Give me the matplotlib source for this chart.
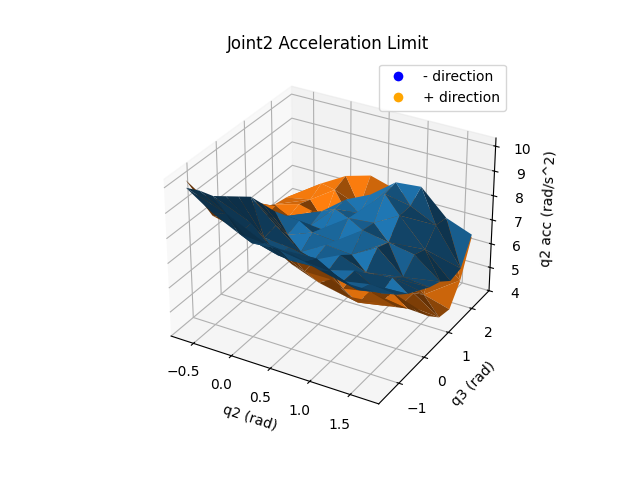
import matplotlib
matplotlib.use("Agg")
import matplotlib.pyplot as plt
import numpy as np
from matplotlib.lines import Line2D

q2_vals = [-0.63, -0.30, 0.03, 0.36, 0.69, 1.02, 1.35, 1.68]
q3_vals = [-1.48, -1.04, -0.60, -0.16, 0.28, 0.72, 1.16, 1.60, 2.04, 2.48]

# rows: q3 index, cols: q2 index
acc_minus = [
    [9.9, 9.2, 8.7, 8.6, 8.5, 8.2, 8.0, 8.0],
    [9.4, 8.8, 7.9, 8.0, 7.8, 7.7, 7.3, 7.5],
    [8.8, 7.6, 7.5, 7.1, 7.5, 6.9, 7.1, 7.0],
    [8.4, 7.6, 6.6, 6.9, 6.6, 6.9, 6.3, 6.6],
    [8.0, 6.6, 6.5, 6.3, 6.8, 6.4, 6.5, 6.3],
    [7.6, 6.7, 5.9, 6.5, 6.4, 7.0, 6.1, 6.0],
    [6.9, 5.9, 6.3, 6.2, 7.0, 6.8, 6.6, 5.8],
    [6.2, 6.1, 6.0, 6.8, 6.9, 7.5, 6.4, 5.4],
    [5.6, 5.5, 6.5, 6.6, 7.7, 7.5, 7.0, 5.5],
    [4.4, 5.7, 6.5, 7.0, 7.8, 7.9, 6.9, 6.5],
]
acc_plus = [
    [10.2, 9.1, 8.85, 8.7, 8.1, 7.7, 7.5, 7.6],
    [9.3, 8.6, 8.1, 8.4, 7.4, 7.4, 6.8, 7.0],
    [8.7, 7.8, 8.2, 7.6, 7.5, 6.6, 6.8, 6.5],
    [8.3, 8.0, 7.5, 7.9, 6.8, 6.8, 5.9, 6.0],
    [7.9, 7.4, 7.8, 7.1, 7.0, 5.9, 5.9, 5.4],
    [7.4, 7.5, 7.0, 7.3, 6.1, 6.1, 5.0, 4.8],
    [6.8, 6.6, 7.2, 6.5, 6.3, 5.2, 5.0, 4.3],
    [6.5, 6.8, 6.4, 6.9, 5.7, 5.7, 4.5, 4.2],
    [6.4, 6.6, 7.3, 6.9, 6.9, 5.9, 5.8, 5.0],
    [6.0, 6.9, 7.5, 7.8, 7.5, 7.3, 6.8, 6.4],
]

QX, QY = np.meshgrid(q2_vals, q3_vals)

fig = plt.figure(figsize=(6.4, 4.8), dpi=100)
ax = fig.add_subplot(projection='3d')
ax.computed_zorder = False
ax.plot_trisurf(QX.ravel(), QY.ravel(), np.array(acc_plus).ravel(), color='C1', zorder=1)
ax.plot_trisurf(QX.ravel(), QY.ravel(), np.array(acc_minus).ravel(), color='C0', zorder=2)

ax.set_xlabel('q2 (rad)')
ax.set_ylabel('q3 (rad)')
ax.set_zlabel('q2 acc (rad/s^2)')
ax.set_title('Joint2 Acceleration Limit')
ax.set_xticks([-0.5, 0.0, 0.5, 1.0, 1.5])
ax.set_yticks([-1, 0, 1, 2])
ax.set_zticks([4, 5, 6, 7, 8, 9, 10])

handles = [Line2D([0], [0], marker='o', color='w', markerfacecolor='blue', markersize=8, label='- direction'),
           Line2D([0], [0], marker='o', color='w', markerfacecolor='orange', markersize=8, label='+ direction')]
ax.legend(handles=handles, loc='upper right')

fig.savefig('out.png', dpi=100)
